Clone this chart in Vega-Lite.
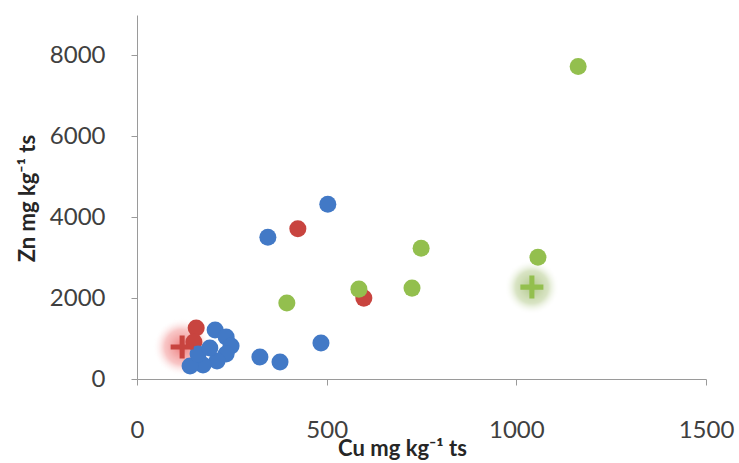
{
  "$schema": "https://vega.github.io/schema/vega-lite/v6.json",
  "width": 569,
  "height": 364,
  "autosize": "none",
  "padding": {"left": 137, "top": 15, "right": 33, "bottom": 84},
  "background": "white",
  "config": {"view": {"stroke": null}},
  "data": {
    "values": [
      {"group": "red", "kind": "point", "cu": 424, "zn": 3715},
      {"group": "red", "kind": "point", "cu": 598, "zn": 2000},
      {"group": "red", "kind": "point", "cu": 156, "zn": 1259},
      {"group": "red", "kind": "point", "cu": 150, "zn": 914},
      {"group": "red", "kind": "mean", "cu": 119, "zn": 790},
      {"group": "blue", "kind": "point", "cu": 503, "zn": 4321},
      {"group": "blue", "kind": "point", "cu": 345, "zn": 3506},
      {"group": "blue", "kind": "point", "cu": 485, "zn": 889},
      {"group": "blue", "kind": "point", "cu": 324, "zn": 543},
      {"group": "blue", "kind": "point", "cu": 377, "zn": 420},
      {"group": "blue", "kind": "point", "cu": 206, "zn": 1210},
      {"group": "blue", "kind": "point", "cu": 235, "zn": 1037},
      {"group": "blue", "kind": "point", "cu": 248, "zn": 815},
      {"group": "blue", "kind": "point", "cu": 235, "zn": 617},
      {"group": "blue", "kind": "point", "cu": 211, "zn": 444},
      {"group": "blue", "kind": "point", "cu": 174, "zn": 346},
      {"group": "blue", "kind": "point", "cu": 140, "zn": 321},
      {"group": "blue", "kind": "point", "cu": 161, "zn": 617},
      {"group": "blue", "kind": "point", "cu": 192, "zn": 765},
      {"group": "green", "kind": "point", "cu": 1163, "zn": 7728},
      {"group": "green", "kind": "point", "cu": 749, "zn": 3235},
      {"group": "green", "kind": "point", "cu": 1057, "zn": 3012},
      {"group": "green", "kind": "point", "cu": 725, "zn": 2247},
      {"group": "green", "kind": "point", "cu": 585, "zn": 2222},
      {"group": "green", "kind": "point", "cu": 395, "zn": 1877},
      {"group": "green", "kind": "mean", "cu": 1041, "zn": 2272}
    ]
  },
  "encoding": {
    "x": {
      "field": "cu", "type": "quantitative",
      "scale": {"domain": [0, 1500], "nice": false, "zero": true},
      "axis": {
        "values": [0, 500, 1000, 1500], "grid": false, "format": "d",
        "title": "Cu mg kg⁻¹ ts",
        "domainColor": "#9a9a9a", "tickColor": "#9a9a9a", "tickSize": 6,
        "labelFont": "Lato", "labelFontSize": 24, "labelColor": "#404040",
        "labelBaseline": "alphabetic", "labelPadding": 52, "labelFlush": false,
        "titleFont": "Lato", "titleFontSize": 22, "titleFontWeight": "bold", "titleColor": "#262626",
        "titleBaseline": "alphabetic", "titleX": 265, "titleY": 76, "titleAnchor": "middle", "titleAlign": "center"
      }
    },
    "y": {
      "field": "zn", "type": "quantitative",
      "scale": {"domain": [0, 9000], "nice": false},
      "axis": {
        "values": [0, 2000, 4000, 6000, 8000], "grid": false, "format": "d",
        "title": "Zn mg kg⁻¹ ts",
        "domainColor": "#9a9a9a", "tickColor": "#9a9a9a", "tickSize": 6,
        "labelFont": "Lato", "labelFontSize": 24, "labelColor": "#404040",
        "labelPadding": 26, "labelFlush": false,
        "titleFont": "Lato", "titleFontSize": 22, "titleFontWeight": "bold", "titleColor": "#262626",
        "titleBaseline": "alphabetic", "titleAngle": -90, "titleX": -103, "titleY": 183, "titleAnchor": "middle", "titleAlign": "center"
      }
    }
  },
  "layer": [
    {
      "transform": [{"filter": "datum.kind === 'mean' && datum.group === 'red'"}],
      "mark": {
        "type": "point", "shape": "circle", "filled": true, "size": 3400, "opacity": 1, "strokeWidth": 0,
        "fill": {"gradient": "radial", "stops": [
          {"offset": 0, "color": "rgba(232,90,90,0.8)"},
          {"offset": 0.6, "color": "rgba(240,130,130,0.45)"},
          {"offset": 1, "color": "rgba(255,255,255,0)"}
        ]}
      }
    },
    {
      "transform": [{"filter": "datum.kind === 'mean' && datum.group === 'green'"}],
      "mark": {
        "type": "point", "shape": "circle", "filled": true, "size": 3000, "opacity": 1, "strokeWidth": 0,
        "fill": {"gradient": "radial", "stops": [
          {"offset": 0, "color": "rgba(150,180,100,0.75)"},
          {"offset": 0.6, "color": "rgba(170,195,125,0.45)"},
          {"offset": 1, "color": "rgba(255,255,255,0)"}
        ]}
      }
    },
    {
      "transform": [{"filter": "datum.kind === 'point'"}],
      "mark": {"type": "point", "shape": "circle", "filled": true, "size": 290, "opacity": 1},
      "encoding": {
        "color": {
          "field": "group", "type": "nominal", "legend": null,
          "scale": {"domain": ["blue", "red", "green"], "range": ["#4279c6", "#c8443f", "#93bf4e"]}
        }
      }
    },
    {
      "transform": [{"filter": "datum.kind === 'mean'"}],
      "mark": {"type": "point", "shape": "M-1,-0.22H-0.22V-1H0.22V-0.22H1V0.22H0.22V1H-0.22V0.22H-1Z", "filled": true, "size": 529, "opacity": 1},
      "encoding": {
        "color": {
          "field": "group", "type": "nominal", "legend": null,
          "scale": {"domain": ["blue", "red", "green"], "range": ["#4279c6", "#c8443f", "#93bf4e"]}
        }
      }
    }
  ]
}
